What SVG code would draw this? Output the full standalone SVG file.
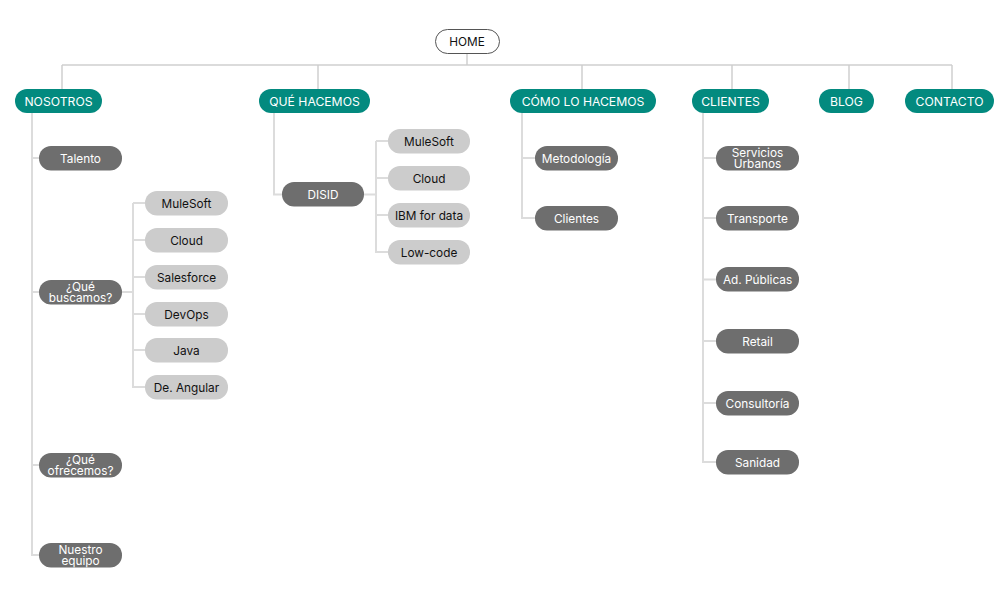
<svg xmlns="http://www.w3.org/2000/svg" width="1005" height="614" viewBox="0 0 1005 614">
<style>
  text { font-family: Inter, "Noto Sans", "Liberation Sans", sans-serif; font-size: 11.8px; text-anchor: middle; dominant-baseline: central; }
  .top rect { fill: #038A7F; }
  .top text { fill: #ffffff; font-size: 12.2px; }
  .dark rect { fill: #6E6E6E; }
  .dark text { fill: #ffffff; }
  .light rect { fill: #CCCCCC; }
  .light text { fill: #111111; }
  .home rect { fill: #ffffff; stroke: #555555; stroke-width: 1; }
  .home text { fill: #111111; }
  #connectors path { fill: none; stroke: #CFCFCF; stroke-width: 1.5; }
  #connectors path.sub { stroke: #DCDCDC; stroke-width: 2; }
</style>
<rect width="1005" height="614" fill="#ffffff"/>
<g id="connectors">
  <path d="M467 53V65M62 65H952M62 65V89M318 65V89M582 65V89M732 65V89M849 65V89M952 65V89"/>
  <path class="sub" d="M32 113V555H39M32 158H39M32 292H39M32 465H39"/>
  <path class="sub" d="M122 292H133M133 203V387H145M133 203H145M133 240H145M133 277H145M133 314H145M133 350H145"/>
  <path class="sub" d="M274 113V194.5H282M364 194.5H376M376 141V252H388M376 141H388M376 178H388M376 215H388"/>
  <path class="sub" d="M522 113V218H535M522 158H535"/>
  <path class="sub" d="M703 113V462H716M703 158H716M703 218H716M703 279.5H716M703 341H716M703 403H716"/>
</g>
<g id="home" class="home"><rect x="435.5" y="29.5" width="64" height="24" rx="12"/><text x="467" y="41.5">HOME</text></g>
<g id="nosotros" class="top"><rect x="15" y="89" width="87" height="24" rx="12"/><text x="58.5" y="101">NOSOTROS</text></g>
<g id="que-hacemos" class="top"><rect x="259" y="89" width="111" height="24" rx="12"/><text x="314.5" y="101">QUÉ HACEMOS</text></g>
<g id="como-lo-hacemos" class="top"><rect x="510" y="89" width="146" height="24" rx="12"/><text x="583" y="101">CÓMO LO HACEMOS</text></g>
<g id="clientes" class="top"><rect x="692" y="89" width="77" height="24" rx="12"/><text x="730.5" y="101">CLIENTES</text></g>
<g id="blog" class="top"><rect x="819" y="89" width="55" height="24" rx="12"/><text x="846.5" y="101">BLOG</text></g>
<g id="contacto" class="top"><rect x="905" y="89" width="89" height="24" rx="12"/><text x="949.5" y="101">CONTACTO</text></g>

<g id="talento" class="dark"><rect x="39" y="146" width="83" height="24.5" rx="12"/><text x="80.5" y="158.5">Talento</text></g>
<g id="que-buscamos" class="dark"><rect x="39" y="280" width="83" height="24.5" rx="12"/><text x="80.5" y="287">¿Qué</text><text x="80.5" y="297.5">buscamos?</text></g>
<g id="que-ofrecemos" class="dark"><rect x="39" y="453" width="83" height="24.5" rx="12"/><text x="80.5" y="460">¿Qué</text><text x="80.5" y="470.5">ofrecemos?</text></g>
<g id="nuestro-equipo" class="dark"><rect x="39" y="543" width="83" height="24.5" rx="12"/><text x="80.5" y="550">Nuestro</text><text x="80.5" y="560.5">equipo</text></g>

<g id="b-mulesoft" class="light"><rect x="145" y="191" width="83" height="24.5" rx="12"/><text x="186.5" y="203.5">MuleSoft</text></g>
<g id="b-cloud" class="light"><rect x="145" y="228" width="83" height="24.5" rx="12"/><text x="186.5" y="240.5">Cloud</text></g>
<g id="b-salesforce" class="light"><rect x="145" y="265" width="83" height="24.5" rx="12"/><text x="186.5" y="277.5">Salesforce</text></g>
<g id="b-devops" class="light"><rect x="145" y="302" width="83" height="24.5" rx="12"/><text x="186.5" y="314.5">DevOps</text></g>
<g id="b-java" class="light"><rect x="145" y="338" width="83" height="24.5" rx="12"/><text x="186.5" y="350.5">Java</text></g>
<g id="b-angular" class="light"><rect x="145" y="375" width="83" height="24.5" rx="12"/><text x="186.5" y="387.5">De. Angular</text></g>

<g id="disid" class="dark"><rect x="282" y="182" width="82" height="24.5" rx="12"/><text x="323" y="194.5">DISID</text></g>
<g id="d-mulesoft" class="light"><rect x="388" y="129" width="82" height="24.5" rx="12"/><text x="429" y="141.5">MuleSoft</text></g>
<g id="d-cloud" class="light"><rect x="388" y="166" width="82" height="24.5" rx="12"/><text x="429" y="178.5">Cloud</text></g>
<g id="d-ibm" class="light"><rect x="388" y="203" width="82" height="24.5" rx="12"/><text x="429" y="215.5">IBM for data</text></g>
<g id="d-lowcode" class="light"><rect x="388" y="240" width="82" height="24.5" rx="12"/><text x="429" y="252.5">Low-code</text></g>

<g id="metodologia" class="dark"><rect x="535" y="146" width="83" height="24.5" rx="12"/><text x="576.5" y="158.5">Metodología</text></g>
<g id="c-clientes" class="dark"><rect x="535" y="206" width="83" height="24.5" rx="12"/><text x="576.5" y="218.5">Clientes</text></g>

<g id="servicios" class="dark"><rect x="716" y="146" width="83" height="24.5" rx="12"/><text x="757.5" y="153">Servicios</text><text x="757.5" y="163.5">Urbanos</text></g>
<g id="transporte" class="dark"><rect x="716" y="206" width="83" height="24.5" rx="12"/><text x="757.5" y="218.5">Transporte</text></g>
<g id="publicas" class="dark"><rect x="716" y="267" width="83" height="24.5" rx="12"/><text x="757.5" y="279.5">Ad. Públicas</text></g>
<g id="retail" class="dark"><rect x="716" y="329" width="83" height="24.5" rx="12"/><text x="757.5" y="341.5">Retail</text></g>
<g id="consultoria" class="dark"><rect x="716" y="391" width="83" height="24.5" rx="12"/><text x="757.5" y="403.5">Consultoría</text></g>
<g id="sanidad" class="dark"><rect x="716" y="450" width="83" height="24.5" rx="12"/><text x="757.5" y="462.5">Sanidad</text></g>
</svg>
